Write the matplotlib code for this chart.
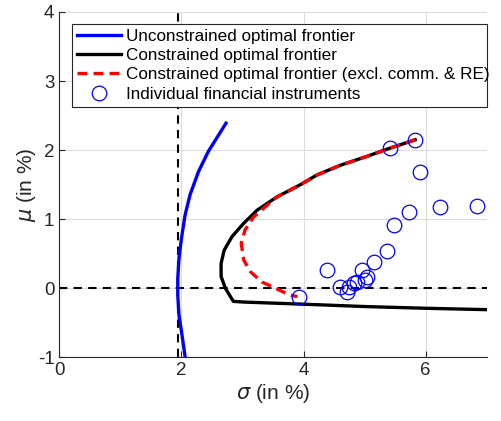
import numpy as np
import matplotlib
matplotlib.use('Agg')
import matplotlib.pyplot as plt

# unconstrained optimal frontier
sigma_unc = [2.06, 2.01, 1.96, 1.94, 1.94, 1.96, 2.00, 2.06, 2.14, 2.28, 2.44, 2.61, 2.73]
mu_unc = [-0.99, -0.68, -0.39, -0.10, 0.14, 0.43, 0.72, 1.06, 1.35, 1.69, 1.98, 2.22, 2.39]

# constrained optimal frontier
sigma_con = [5.83, 5.42, 5.04, 4.60, 4.22, 3.95, 3.56, 3.24, 3.02, 2.83, 2.70, 2.65, 2.65,
             2.72, 2.85, 3.02, 4.27, 5.00, 6.00, 7.00]
mu_con = [2.15, 2.03, 1.91, 1.78, 1.64, 1.50, 1.32, 1.13, 0.94, 0.75, 0.55, 0.36, 0.17,
          0.00, -0.19, -0.20, -0.24, -0.265, -0.29, -0.31]

# constrained frontier excluding commodities and real estate
sigma_exc = [5.83, 5.42, 5.04, 4.60, 4.22, 3.95, 3.56, 3.18, 3.04, 2.98, 3.02, 3.13, 3.32,
             3.54, 3.78, 3.90]
mu_exc = [2.15, 2.03, 1.91, 1.78, 1.64, 1.50, 1.32, 1.03, 0.84, 0.65, 0.41, 0.24, 0.09,
          0.00, -0.10, -0.12]

# individual financial instruments
sigma_pts = [5.83, 5.42, 5.90, 6.24, 6.84, 5.73, 5.49, 5.36, 5.16, 4.39, 4.95, 5.04, 3.93,
             4.60, 4.71, 4.82, 4.87, 4.74, 5.01]
mu_pts = [2.15, 2.03, 1.68, 1.18, 1.19, 1.11, 0.92, 0.54, 0.38, 0.26, 0.26, 0.16, -0.13,
          0.02, -0.05, 0.07, 0.09, 0.02, 0.12]

gmv_sigma = 1.94

plt.rcParams['font.family'] = ['Liberation Sans', 'DejaVu Sans']
plt.rcParams['axes.unicode_minus'] = False

fig = plt.figure(figsize=(5.01, 4.21), dpi=100)
ax = fig.add_axes([0.1184, 0.1513, 0.8530, 0.8202])

ax.axvline(gmv_sigma, color='black', linestyle=(0, (4, 3)), linewidth=1.5, zorder=2)
ax.axhline(0, color='black', linestyle=(0, (4, 3)), linewidth=1.5, zorder=2)

ax.plot(sigma_unc, mu_unc, color='blue', linewidth=2.4, label='Unconstrained optimal frontier',
        zorder=3, solid_joinstyle='round')
ax.plot(sigma_con, mu_con, color='black', linewidth=2.4, label='Constrained optimal frontier',
        zorder=3, solid_joinstyle='round')
ax.plot(sigma_exc, mu_exc, color='red', linewidth=2.4, linestyle=(0, (3, 1.8)),
        label='Constrained optimal frontier (excl. comm. & RE)', zorder=4)
ax.plot(sigma_pts, mu_pts, linestyle='none', marker='o', markersize=10.5, markerfacecolor='none',
        markeredgecolor='blue', markeredgewidth=0.9, label='Individual financial instruments', zorder=5)

ax.set_xlim(0, 7)
ax.set_ylim(-1, 4)
ax.set_xticks([0, 2, 4, 6])
ax.set_yticks([-1, 0, 1, 2, 3, 4])
ax.grid(True, color='#dcdcdc', linewidth=0.8)
ax.set_axisbelow(True)
for s in ['top', 'right']:
    ax.spines[s].set_visible(False)
for s in ['left', 'bottom']:
    ax.spines[s].set_color('#262626')
ax.tick_params(direction='in', labelsize=13.5, colors='#262626', length=4)
ax.set_xlabel(r'$\sigma$ (in %)', fontsize=15, color='#262626', labelpad=2)
ax.set_ylabel(r'$\mu$ (in %)', fontsize=15, color='#262626', labelpad=0)

leg = ax.legend(loc='upper left', bbox_to_anchor=(0.029, 0.965, 0.971, 0.0), mode='expand',
                fontsize=12.3, handlelength=2.6, handletextpad=0.25, labelspacing=0.24,
                borderpad=0.3, borderaxespad=0.0, fancybox=False, framealpha=1)
leg.get_frame().set_edgecolor('#262626')
leg.get_frame().set_linewidth(0.8)

fig.savefig('out.png', dpi=100)
